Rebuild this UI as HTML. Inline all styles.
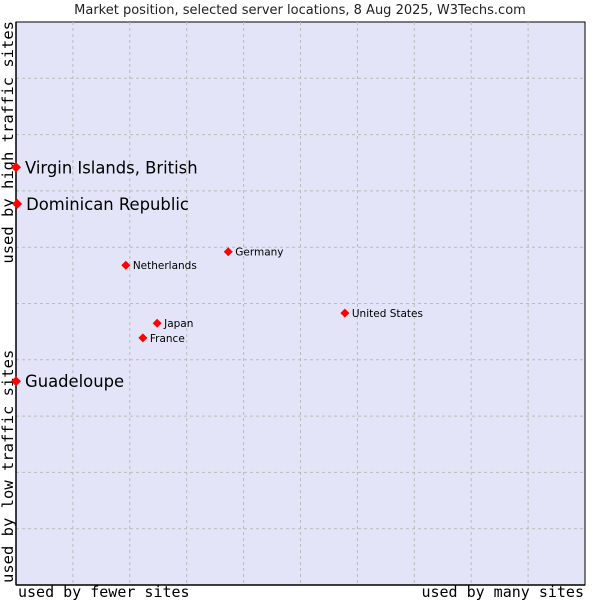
<!DOCTYPE html>
<html><head><meta charset="utf-8"><style>
body{margin:0;background:#fff;width:600px;height:600px;overflow:hidden}
svg{display:block}
</style></head><body>
<svg id="chart" width="600" height="600">
<text x="300" y="14" text-anchor="middle" font-family="DejaVu Sans, sans-serif" font-size="13" fill="#222">Market position, selected server locations, 8 Aug 2025, W3Techs.com</text>
<rect x="16" y="22" width="569" height="563" fill="#e3e4f8" stroke="#000" stroke-width="1"/>
<g id="grid"></g>
<line x1="16" y1="22" x2="16" y2="585" stroke="#000" stroke-width="1.5"/>
<line x1="16" y1="585" x2="585" y2="585" stroke="#000" stroke-width="1.5"/>
<text x="18" y="597" font-family="DejaVu Sans Mono, monospace" font-size="15" fill="#000">used by fewer sites</text>
<text x="584" y="597" text-anchor="end" font-family="DejaVu Sans Mono, monospace" font-size="15" fill="#000">used by many sites</text>
<text transform="translate(13,21) rotate(-90)" text-anchor="end" font-family="DejaVu Sans Mono, monospace" font-size="15.5" fill="#000">used by high traffic sites</text>
<text transform="translate(13,583) rotate(-90)" font-family="DejaVu Sans Mono, monospace" font-size="15.5" fill="#000">used by low traffic sites</text>
<g id="points"></g>
</svg>
<script>
const names=["Virgin Islands, British","Dominican Republic","Guadeloupe","Netherlands","Germany","United States","Japan","France"];
const xVals=[0,0.2,0,19.3,37.3,57.8,24.8,22.3];
const yVals=[74.2,67.7,36.2,56.8,59.2,48.3,46.5,43.9];
const highlighted=[true,true,true,false,false,false,false,false];
const L=16,R=585,T=22,B=585;
function xs(v){return L+v/100*(R-L);}
function ys(v){return B-v/100*(B-T);}
const ns="http://www.w3.org/2000/svg";
const grid=document.getElementById('grid');
for(let i=1;i<10;i++){
  const gx=L+i*(R-L)/10, gy=T+i*(B-T)/10;
  const v=document.createElementNS(ns,'line');
  v.setAttribute('x1',gx);v.setAttribute('x2',gx);v.setAttribute('y1',T);v.setAttribute('y2',B);
  v.setAttribute('stroke','#bbb');v.setAttribute('stroke-dasharray','3,3');
  
  
  grid.appendChild(v);
  const h=document.createElementNS(ns,'line');
  h.setAttribute('x1',L);h.setAttribute('x2',R);h.setAttribute('y1',gy);h.setAttribute('y2',gy);
  h.setAttribute('stroke','#bbb');h.setAttribute('stroke-dasharray','3,3');
  
  
  grid.appendChild(h);
}
const pts=document.getElementById('points');
names.forEach((n,i)=>{
  const cx=xs(xVals[i]),cy=ys(yVals[i]);
  const d=document.createElementNS(ns,'path');
  const r=highlighted[i]?5:4.5;
  d.setAttribute('d',`M${cx},${cy-r}L${cx+r},${cy}L${cx},${cy+r}L${cx-r},${cy}Z`);
  d.setAttribute('fill','#f00');
  
  
  pts.appendChild(d);
  const t=document.createElementNS(ns,'text');
  t.setAttribute('x',cx+(highlighted[i]?9:7));
  t.setAttribute('y',cy+(highlighted[i]?6:4));
  t.setAttribute('font-family','DejaVu Sans, sans-serif');
  t.setAttribute('font-size',highlighted[i]?16.4:10.5);
  t.setAttribute('fill','#000');
  t.textContent=n;
  
  
  pts.appendChild(t);
});
</script>
</body></html>
